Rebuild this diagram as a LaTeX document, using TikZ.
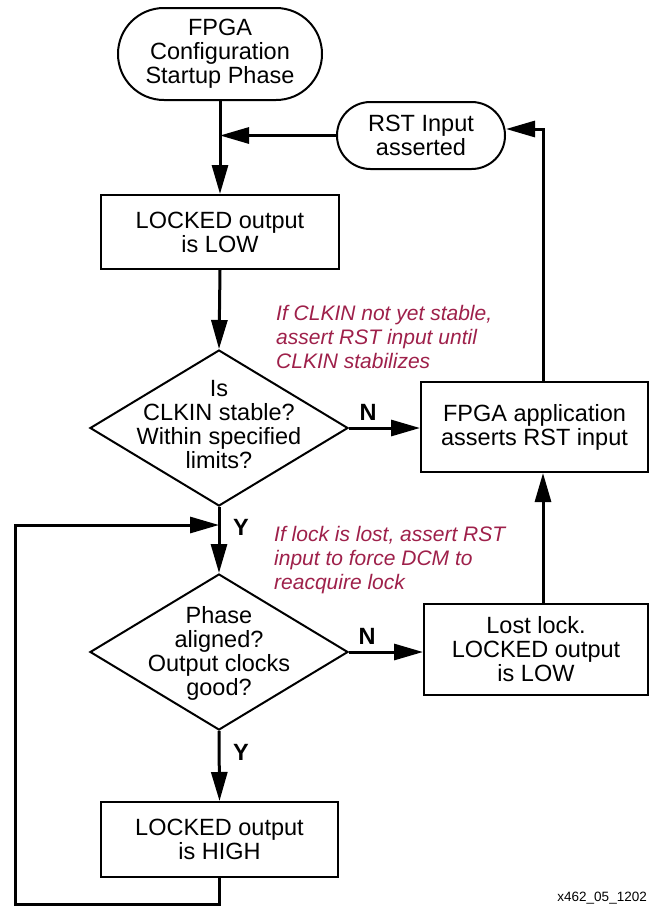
\documentclass[tikz,border=0pt]{standalone}
\usepackage{fontspec}
\setmainfont{Liberation Sans}
\usetikzlibrary{shapes.geometric, arrows.meta}
\definecolor{notered}{RGB}{158,32,74}

\begin{document}
\begin{tikzpicture}[x=1pt, y=-1pt,
    txt/.style={font=\fontsize{23.5}{24}\selectfont, align=center},
    term/.style={txt, rectangle, draw, line width=2pt, inner sep=0pt},
    proc/.style={txt, rectangle, draw, line width=2pt, inner sep=0pt},
    decide/.style={diamond, draw, line width=2pt, inner sep=0pt},
    flow/.style={line width=3pt, -{Triangle[length=29pt, width=16pt]}},
    yn/.style={font=\fontsize{23.5}{24}\selectfont\bfseries},
    note/.style={font=\fontsize{21}{24}\selectfont\itshape, text=notered,
      align=left, anchor=west, inner sep=0pt}]
  \useasboundingbox (0,0) rectangle (649,911);

  %%start and reset
  \node[term, rounded corners=45.9pt, minimum width=204pt, minimum height=92pt] (start) at (220,54) {FPGA\\Configuration\\Startup Phase};
  \node[term, rounded corners=33.4pt, minimum width=168pt, minimum height=67pt] (rst) at (421,135.5) {RST Input\\asserted};

  %%L1 low
  \node[proc, minimum width=238pt, minimum height=74pt] (low) at (220,232) {LOCKED output\\is LOW};

  %%first check
  \node[decide, minimum width=258pt, minimum height=156pt] (chk) at (219,428) {};
  \node[txt] (chktxt) at (219,425) {Is\\CLKIN stable?\\Within specified\\limits?};
  \node[proc, minimum width=227pt, minimum height=90pt] (app) at (534.5,427) {FPGA application\\asserts RST input};

  %%second check
  \node[decide, minimum width=258pt, minimum height=156pt] (phase) at (219,652) {};
  \node[txt] (phasetxt) at (219,653) {Phase\\aligned?\\Output clocks\\good?};
  \node[proc, minimum width=224pt, minimum height=91pt] (lost) at (536,649.5) {Lost lock.\\LOCKED output\\is LOW};

  %%L2 high
  \node[proc, minimum width=237pt, minimum height=75pt] (high) at (219.5,839.5) {LOCKED output\\is HIGH};

  %%notes
  \node[note] (note1) at (276,337) {If CLKIN not yet stable,\\assert RST input until\\CLKIN stabilizes};
  \node[note] (note2) at (274,560) {If lock is lost, assert RST\\input to force DCM to\\reacquire lock};

  %%yes / no
  \node[yn] (n1) at (368,412) {N};
  \node[yn] (n2) at (367,636) {N};
  \node[yn] (y1) at (241,527) {Y};
  \node[yn] (y2) at (241,752) {Y};

  %%lines
  \coordinate (join) at (start.south |- rst.west);
  \coordinate (turn) at (543,129);
  \coordinate (loopdn) at (15,904);
  \coordinate (loopup) at (15,525);
  \draw[flow] (start.south) to (low.north);
  \draw[flow] (rst.west) to (join);
  \draw[flow] (low.south) to (chk.north);
  \draw[flow] (chk.east) to (chk.east -| app.west);
  \draw[flow] (app.north -| turn) |- (rst.east |- turn);
  \draw[flow] (lost.north -| turn) to (app.south -| turn);
  \draw[flow] (chk.south) to (phase.north);
  \draw[flow] (phase.east) to (phase.east -| lost.west);
  \draw[flow] (phase.south) to (high.north);
  %% loop back to the first Y
  \draw[flow] (high.south) |- (loopdn) |- (chk.south |- loopup);

  \node[font=\fontsize{13.5}{15}\selectfont, anchor=east, inner sep=0pt] (fig) at (647,898) {x462\_05\_1202};
\end{tikzpicture}
\end{document}
